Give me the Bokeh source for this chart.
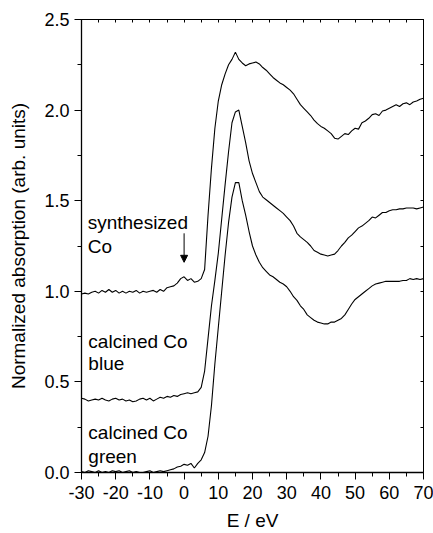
from bokeh.plotting import figure
from bokeh.embed import file_html
from bokeh.resources import INLINE
from bokeh.core.properties import value
from bokeh.models import (Range1d, LinearAxis, SingleIntervalTicker, NumeralTickFormatter,
                          CustomJSTickFormatter, Arrow, NormalHead)

# ---------------- data ----------------
energy = [-30, -29, -28, -27, -26, -25, -24, -23, -22, -21,
          -20, -19, -18, -17, -16, -15, -14, -13, -12, -11,
          -10, -9, -8, -7, -6, -5, -4, -3, -2, -1,
          0, 1, 2, 3, 4, 5, 6, 7, 8, 9,
          10, 11, 12, 13, 14, 15, 16, 17, 18, 19,
          20, 21, 22, 23, 24, 25, 26, 27, 28, 29,
          30, 31, 32, 33, 34, 35, 36, 37, 38, 39,
          40, 41, 42, 43, 44, 45, 46, 47, 48, 49,
          50, 51, 52, 53, 54, 55, 56, 57, 58, 59,
          60, 61, 62, 63, 64, 65, 66, 67, 68, 69, 70]

synthesized = [0.985, 0.99, 0.985, 0.995, 1.0, 0.99, 1.005, 0.995, 1.01, 0.995,
               1.005, 0.99, 1.0, 0.99, 1.0, 0.995, 1.005, 0.99, 1.0, 0.995,
               1.0, 1.005, 0.995, 1.01, 1.0, 1.02, 1.025, 1.03, 1.045, 1.07,
               1.08, 1.06, 1.07, 1.05, 1.055, 1.07, 1.12, 1.42, 1.68, 1.9,
               2.05, 2.14, 2.2, 2.25, 2.28, 2.32, 2.28, 2.26, 2.245, 2.255,
               2.26, 2.265, 2.255, 2.235, 2.22, 2.2, 2.18, 2.165, 2.15, 2.14,
               2.125, 2.11, 2.09, 2.06, 2.03, 2.01, 1.99, 1.97, 1.945, 1.925,
               1.91, 1.9, 1.885, 1.87, 1.845, 1.84, 1.855, 1.87, 1.865, 1.885,
               1.9, 1.895, 1.93, 1.94, 1.955, 1.975, 1.98, 1.97, 1.995, 2.0,
               2.01, 2.02, 2.03, 2.02, 2.035, 2.04, 2.03, 2.045, 2.05, 2.06, 2.065]

calcined_blue = [0.41, 0.405, 0.395, 0.40, 0.405, 0.40, 0.41, 0.40, 0.395, 0.405,
                 0.41, 0.40, 0.405, 0.395, 0.40, 0.39, 0.395, 0.405, 0.41, 0.40,
                 0.41, 0.395, 0.405, 0.415, 0.41, 0.42, 0.415, 0.425, 0.42, 0.43,
                 0.435, 0.44, 0.435, 0.44, 0.445, 0.47, 0.56, 0.74, 0.92, 1.06,
                 1.21, 1.4, 1.59, 1.77, 1.93, 1.99, 2.0, 1.91, 1.82, 1.72,
                 1.65, 1.6, 1.55, 1.52, 1.505, 1.49, 1.475, 1.46, 1.445, 1.43,
                 1.41, 1.39, 1.36, 1.32, 1.3, 1.285, 1.27, 1.25, 1.225, 1.215,
                 1.205, 1.2, 1.195, 1.2, 1.205, 1.225, 1.25, 1.27, 1.295, 1.31,
                 1.33, 1.35, 1.36, 1.375, 1.39, 1.41, 1.405, 1.42, 1.435, 1.435,
                 1.445, 1.45, 1.45, 1.455, 1.455, 1.46, 1.46, 1.46, 1.455, 1.46, 1.465]

calcined_green = [0.005, 0.0, 0.01, 0.005, 0.0, 0.01, 0.0, 0.005, 0.0, 0.01,
                  0.005, 0.01, 0.0, 0.005, 0.01, 0.0, 0.005, 0.0, 0.0, 0.005,
                  0.01, 0.0, 0.005, 0.01, 0.005, 0.01, 0.015, 0.02, 0.03, 0.035,
                  0.045, 0.04, 0.05, 0.025, 0.05, 0.07, 0.11, 0.2, 0.37, 0.6,
                  0.8, 1.0, 1.2, 1.38, 1.52, 1.6, 1.6, 1.5, 1.42, 1.33,
                  1.25, 1.2, 1.16, 1.13, 1.11, 1.09, 1.08, 1.065, 1.05, 1.04,
                  1.025, 1.0, 0.97, 0.95, 0.92, 0.9, 0.87, 0.855, 0.84, 0.83,
                  0.825, 0.82, 0.82, 0.83, 0.83, 0.84, 0.85, 0.87, 0.9, 0.93,
                  0.955, 0.97, 0.985, 1.0, 1.015, 1.03, 1.04, 1.045, 1.05, 1.055,
                  1.055, 1.055, 1.055, 1.055, 1.06, 1.06, 1.07, 1.065, 1.07, 1.065, 1.07]

label_lines = ["synthesized", "Co", "calcined Co", "blue", "calcined Co", "green"]
label_x = [-28.2, -28.2, -28.0, -28.0, -28.0, -28.0]
label_y = [1.377, 1.245, 0.721, 0.600, 0.220, 0.088]

FONT = "Liberation Sans"

p = figure(width=433, height=533, output_backend="svg", toolbar_location=None,
           x_range=Range1d(-30, 70), y_range=Range1d(0, 2.5),
           min_border_left=81, min_border_right=10, min_border_top=19, min_border_bottom=60,
           background_fill_color="white", border_fill_color="white")
p.grid.visible = False
p.outline_line_color = "black"
p.outline_line_width = 1

for ys in (synthesized, calcined_blue, calcined_green):
    p.line(energy, ys, line_color="black", line_width=1.1)

# annotations
p.text(x=label_x, y=label_y, text=label_lines, text_font=value(FONT),
       text_font_size=value("19px"), text_color="black",
       text_baseline="alphabetic", text_align="left")
p.add_layout(Arrow(x_start=0, y_start=1.32, x_end=0, y_end=1.16,
                   line_color="black", line_width=1,
                   end=NormalHead(size=7, fill_color="black", line_color="black")))

# bottom axis
xa = p.xaxis[0]
xa.ticker = SingleIntervalTicker(interval=10, num_minor_ticks=2)
xa.formatter = NumeralTickFormatter(format="0")
xa.axis_label = "E / eV"
# left axis
ya = p.yaxis[0]
ya.ticker = SingleIntervalTicker(interval=0.5, num_minor_ticks=2)
ya.formatter = NumeralTickFormatter(format="0.0")
ya.axis_label = "Normalized absorption (arb. units)"

for ax in (xa, ya):
    ax.major_tick_out = 7
    ax.major_tick_in = 0
    ax.minor_tick_out = 4
    ax.minor_tick_in = 0
    ax.axis_line_color = "black"
    ax.axis_line_width = 1.3
    ax.major_tick_line_color = "black"
    ax.minor_tick_line_color = "black"
    ax.major_label_text_font = FONT
    ax.major_label_text_font_size = "18px"
    ax.major_label_text_color = "black"
    ax.axis_label_text_font = FONT
    ax.axis_label_text_font_size = "19px"
    ax.axis_label_text_font_style = "normal"
    ax.axis_label_text_color = "black"
xa.major_label_standoff = 6
xa.axis_label_standoff = 8
ya.major_label_standoff = 5
ya.axis_label_standoff = 12

blank = CustomJSTickFormatter(code="return ''")
top = LinearAxis(ticker=SingleIntervalTicker(interval=5, num_minor_ticks=0), formatter=blank,
                 major_tick_in=3, major_tick_out=0, minor_tick_in=0, minor_tick_out=0,
                 major_label_standoff=0, major_label_text_font_size="1px")
right = LinearAxis(ticker=SingleIntervalTicker(interval=0.25, num_minor_ticks=0), formatter=blank,
                   major_tick_in=3, major_tick_out=0, minor_tick_in=0, minor_tick_out=0,
                   major_label_standoff=0, major_label_text_font_size="1px")
p.add_layout(top, "above")
p.add_layout(right, "right")

open("out.html", "w").write(file_html(p, INLINE))
